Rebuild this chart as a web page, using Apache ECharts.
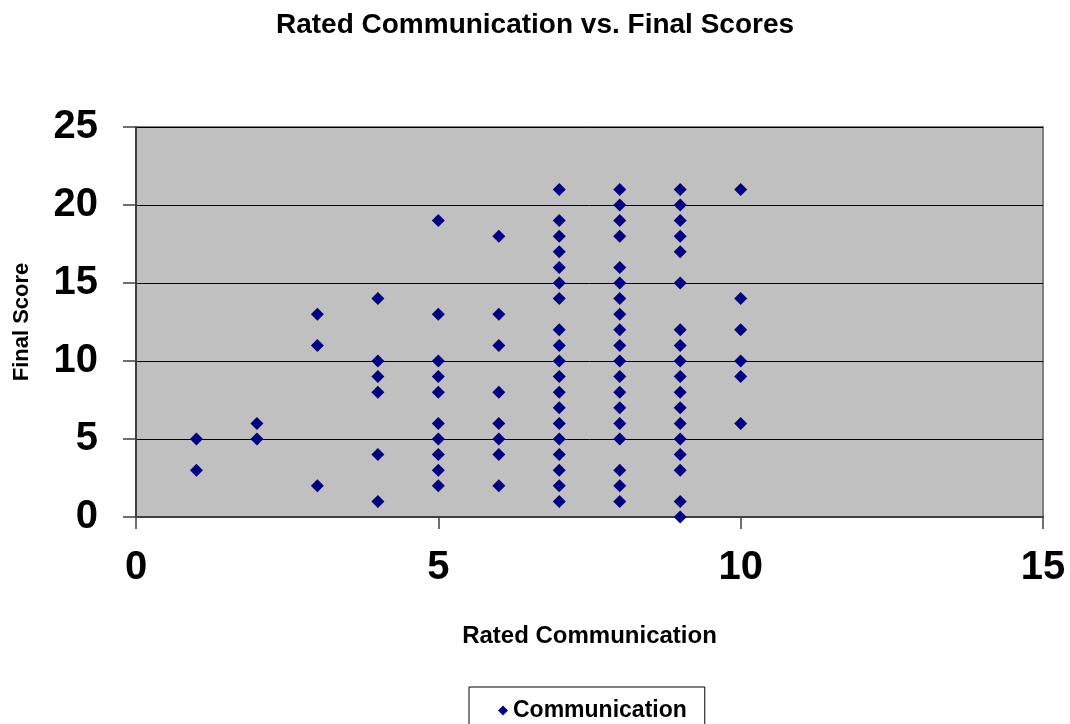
<!DOCTYPE html>
<html>
<head>
<meta charset="utf-8">
<script src="https://cdn.jsdelivr.net/npm/echarts@6/dist/echarts.min.js"></script>
<style>
  html, body { margin: 0; padding: 0; background: #fff; }
  #chart { width: 1070px; height: 724px; }
</style>
</head>
<body>
<div id="chart"></div>
<script>
// final scores, one list per communication rating
const ratings = [1, 2, 3, 4, 5, 6, 7, 8, 9, 10]
const scoresRated1 = [5, 3]
const scoresRated2 = [6, 5]
const scoresRated3 = [13, 11, 2]
const scoresRated4 = [14, 10, 9, 8, 4, 1]
const scoresRated5 = [19, 13, 10, 9, 8, 6, 5, 4, 3, 2]
const scoresRated6 = [18, 13, 11, 8, 6, 5, 4, 2]
const scoresRated7 = [21, 19, 18, 17, 16, 15, 14, 12, 11, 10, 9, 8, 7, 6, 5, 4, 3, 2, 1]
const scoresRated8 = [21, 20, 19, 18, 16, 15, 14, 13, 12, 11, 10, 9, 8, 7, 6, 5, 3, 2, 1]
const scoresRated9 = [21, 20, 19, 18, 17, 15, 12, 11, 10, 9, 8, 7, 6, 5, 4, 3, 1, 0]
const scoresRated10 = [21, 14, 12, 10, 9, 6]

const xTicks = [0, 5, 10, 15]
const yTicks = [0, 5, 10, 15, 20, 25]

const scoreLists = [scoresRated1, scoresRated2, scoresRated3, scoresRated4, scoresRated5,
    scoresRated6, scoresRated7, scoresRated8, scoresRated9, scoresRated10]

const points = []
ratings.forEach((r, i) => {
    scoreLists[i].forEach((s) => points.push([r, s]))
})

const font = 'Liberation Sans, Arial, sans-serif'
const chart = echarts.init(document.getElementById('chart'))

chart.setOption({
    animation: false,
    title: {
        text: 'Rated Communication vs. Final Scores',
        left: 'center',
        top: 6,
        textStyle: { fontFamily: font, fontSize: 28, fontWeight: 'bold', color: '#000' }
    },
    legend: {
        data: ['Communication'],
        left: 469,
        top: 687,
        padding: [12, 18, 12, 29],
        borderColor: '#000',
        borderWidth: 1,
        icon: 'diamond',
        itemWidth: 10,
        itemHeight: 10,
        textStyle: { fontFamily: font, fontSize: 23, fontWeight: 'bold', color: '#000' }
    },
    grid: {
        left: 136,
        right: 27,
        top: 127,
        bottom: 207,
        show: true,
        backgroundColor: '#c0c0c0',
        borderColor: '#808080',
        borderWidth: 2
    },
    xAxis: {
        type: 'value',
        min: xTicks[0],
        max: xTicks[xTicks.length - 1],
        interval: 5,
        name: 'Rated Communication',
        nameLocation: 'middle',
        nameGap: 107,
        nameTextStyle: { fontFamily: font, fontSize: 24, fontWeight: 'bold', color: '#000' },
        axisLine: { show: true, lineStyle: { color: '#404040', width: 2 } },
        axisTick: { show: true, length: 12, lineStyle: { color: '#404040', width: 1.5 } },
        axisLabel: { margin: 31, fontFamily: font, fontSize: 40, fontWeight: 'bold', color: '#000' },
        splitLine: { show: false }
    },
    yAxis: {
        type: 'value',
        min: yTicks[0],
        max: yTicks[yTicks.length - 1],
        interval: 5,
        name: 'Final Score',
        nameLocation: 'middle',
        nameGap: 103,
        nameTextStyle: { fontFamily: font, fontSize: 22, fontWeight: 'bold', color: '#000' },
        axisLine: { show: true, lineStyle: { color: '#404040', width: 2 } },
        axisTick: { show: true, length: 13, lineStyle: { color: '#404040', width: 1.5 } },
        axisLabel: { margin: 38, fontFamily: font, fontSize: 40, fontWeight: 'bold', color: '#000' },
        splitLine: { show: true, lineStyle: { color: '#000', width: 1 } }
    },
    series: [
        {
            name: 'Communication',
            type: 'scatter',
            symbol: 'diamond',
            symbolSize: 13,
            itemStyle: { color: '#000080', opacity: 1 },
            data: points
        }
    ]
})
</script>
</body>
</html>
